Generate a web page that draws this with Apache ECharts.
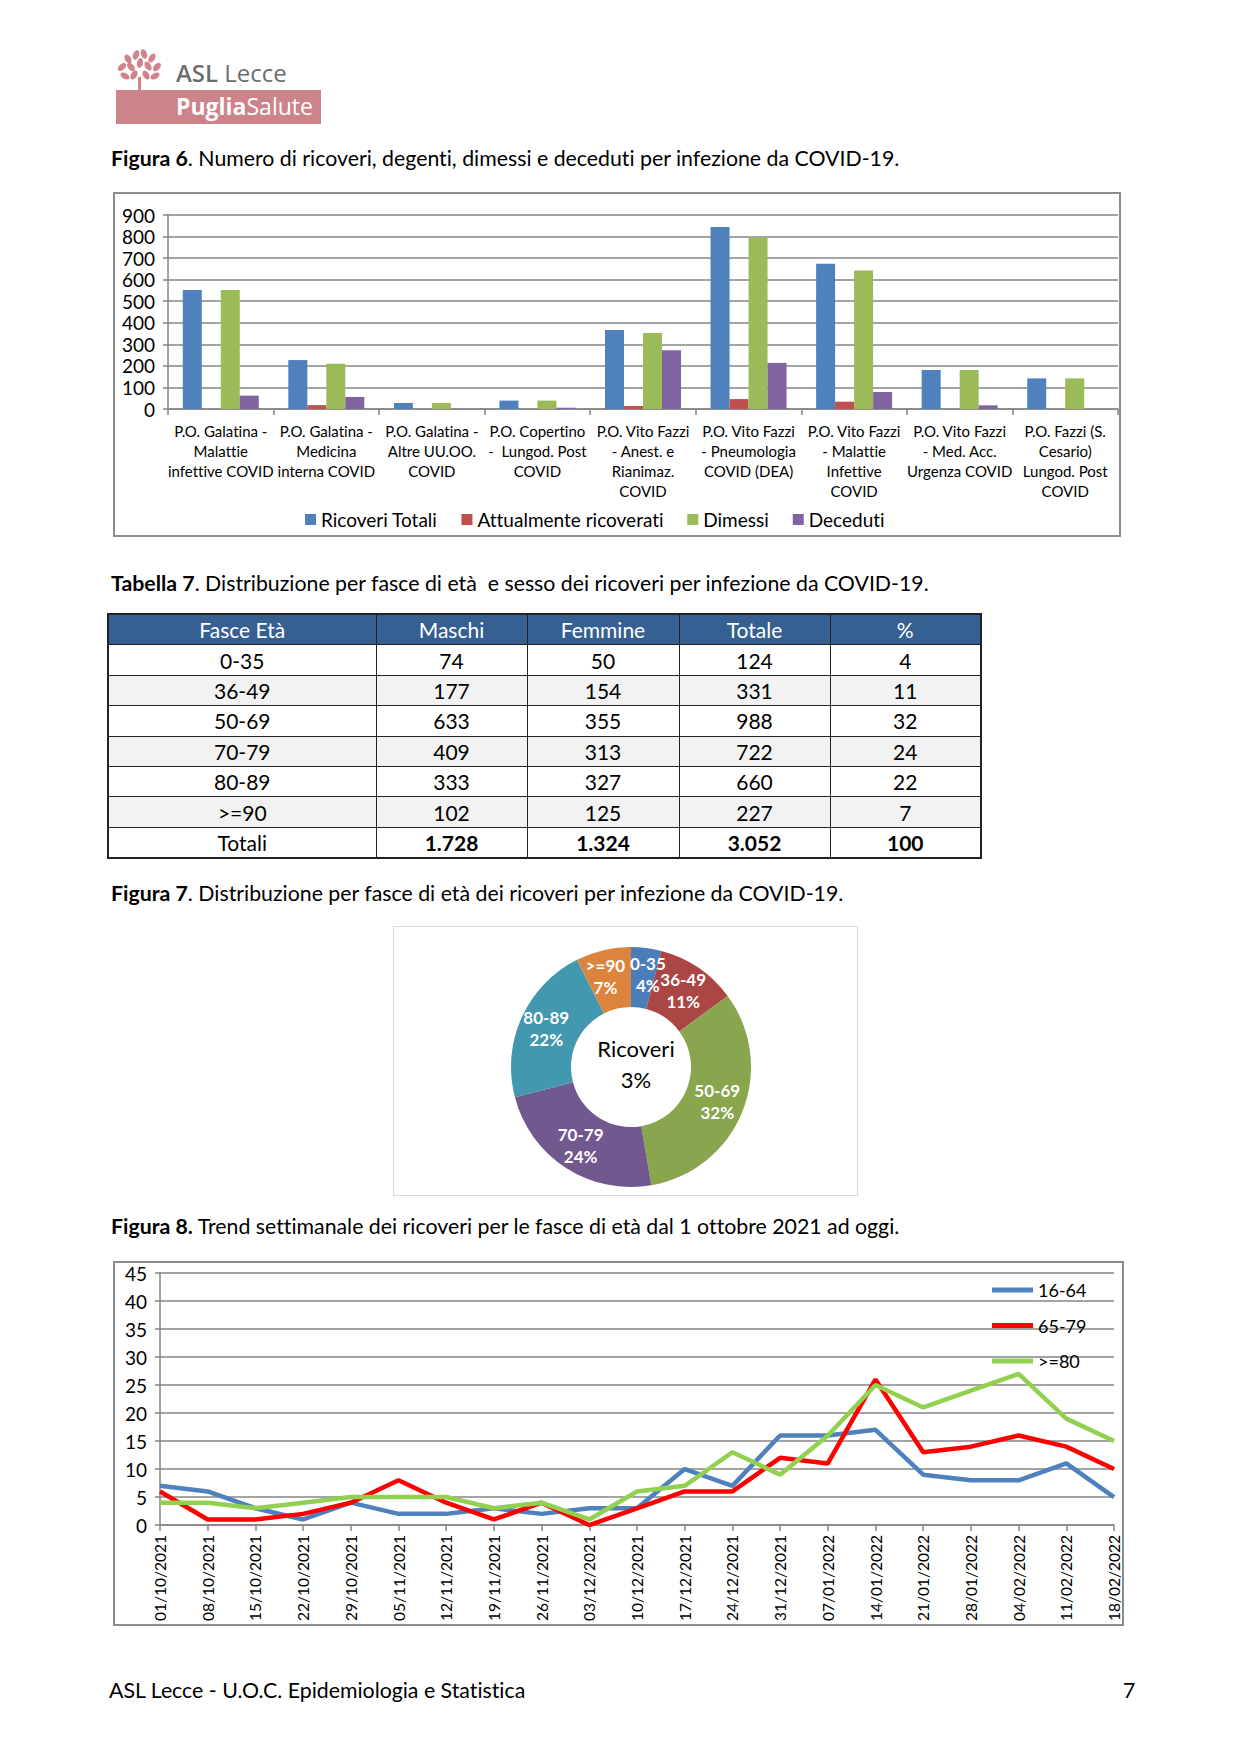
<!DOCTYPE html>
<html><head><meta charset="utf-8">
<script src="https://cdn.jsdelivr.net/npm/echarts@6/dist/echarts.min.js"></script>
<style>
html,body{margin:0;padding:0;background:#fff;}
body{width:1240px;height:1754px;position:relative;overflow:hidden;font-family:Lato,"Open Sans","Noto Sans",sans-serif;color:#000;font-variant-ligatures:none;font-feature-settings:"liga" 0,"clig" 0;}
svg text{font-variant-ligatures:none;font-feature-settings:"liga" 0,"clig" 0;}
.abs{position:absolute;}
.cap{font-size:21.3px;line-height:26px;white-space:nowrap;}
.cap b{font-weight:bold;}
#tbl{border-collapse:collapse;table-layout:fixed;font-size:21px;}
#tbl td,#tbl th{border:1px solid #222;text-align:center;height:29.4px;padding:0;}
#tbl th{background:#366092;color:#fff;font-weight:normal;}
#tbl tr.g td{background:#F2F2F2;}
</style></head>
<body>
<!-- logo -->
<svg class="abs" style="left:114px;top:47px" width="54" height="48" viewBox="0 0 54 48">
 <g fill="#D0848C">
  <ellipse cx="14" cy="12" rx="3" ry="5" transform="rotate(-30 14 12)"/>
  <ellipse cx="22" cy="8" rx="3" ry="5" transform="rotate(20 22 8)"/>
  <ellipse cx="30" cy="7" rx="3" ry="5" transform="rotate(-20 30 7)"/>
  <ellipse cx="38" cy="11" rx="3" ry="5" transform="rotate(30 38 11)"/>
  <ellipse cx="8" cy="20" rx="3" ry="5" transform="rotate(50 8 20)"/>
  <ellipse cx="17" cy="20" rx="3" ry="5" transform="rotate(-40 17 20)"/>
  <ellipse cx="26" cy="16" rx="3" ry="5" transform="rotate(10 26 16)"/>
  <ellipse cx="34" cy="19" rx="3" ry="5" transform="rotate(-30 34 19)"/>
  <ellipse cx="43" cy="20" rx="3" ry="5" transform="rotate(40 43 20)"/>
  <ellipse cx="11" cy="29" rx="3" ry="5" transform="rotate(-60 11 29)"/>
  <ellipse cx="20" cy="28" rx="3" ry="5" transform="rotate(30 20 28)"/>
  <ellipse cx="32" cy="28" rx="3" ry="5" transform="rotate(-30 32 28)"/>
  <ellipse cx="41" cy="29" rx="3" ry="5" transform="rotate(60 41 29)"/>
  <rect x="24" y="30" width="3" height="14"/>
 </g>
</svg>
<div class="abs" style="left:176px;top:56px;font-size:24px;color:#6d6d6d;font-family:'Open Sans',sans-serif;"><b style="font-weight:600">ASL</b> Lecce</div>
<div class="abs" style="left:116px;top:90px;width:205px;height:34px;background:#CC8389;"></div>
<div class="abs" style="left:176px;top:90px;font-size:23px;color:#fff;font-family:'Open Sans',sans-serif;"><b style="font-weight:700">Puglia</b>Salute</div>

<div class="abs cap" style="left:111px;top:145px"><b>Figura 6</b>. Numero di ricoveri, degenti, dimessi e deceduti per infezione da COVID-19.</div>
<div class="abs" style="left:113px;top:192px;width:1008px;height:345px;box-sizing:border-box;border:2px solid #8c8c8c;">
 <div id="c1" style="width:1004px;height:341px"></div>
</div>

<div class="abs cap" style="left:111px;top:570px"><b>Tabella 7</b>. Distribuzione per fasce di età &nbsp;e sesso dei ricoveri per infezione da COVID-19.</div>
<div class="abs" style="left:107px;top:613px;"><table id="tbl"></table></div>

<div class="abs cap" style="left:111px;top:880px"><b>Figura 7</b>. Distribuzione per fasce di età dei ricoveri per infezione da COVID-19.</div>
<div class="abs" style="left:393px;top:926px;width:465px;height:270px;box-sizing:border-box;border:1px solid #d9d9d9;">
 <div id="c2" style="width:463px;height:268px"></div>
</div>

<div class="abs cap" style="left:111px;top:1213px"><b>Figura 8.</b> Trend settimanale dei ricoveri per le fasce di età dal 1 ottobre 2021 ad oggi.</div>
<div class="abs" style="left:113px;top:1261px;width:1011px;height:365px;box-sizing:border-box;border:2px solid #8c8c8c;">
 <div id="c3" style="width:1007px;height:361px"></div>
</div>

<div class="abs cap" style="left:109px;top:1677px">ASL Lecce - U.O.C. Epidemiologia e Statistica</div>
<div class="abs cap" style="left:1123px;top:1677px">7</div>

<script>
// ---------- Figura 6 data ----------
var reparti = [
 "P.O. Galatina -\nMalattie\ninfettive COVID",
 "P.O. Galatina -\nMedicina\ninterna COVID",
 "P.O. Galatina -\nAltre UU.OO.\nCOVID",
 "P.O. Copertino\n-  Lungod. Post\nCOVID",
 "P.O. Vito Fazzi\n- Anest. e\nRianimaz.\nCOVID",
 "P.O. Vito Fazzi\n- Pneumologia\nCOVID (DEA)",
 "P.O. Vito Fazzi\n- Malattie\nInfettive\nCOVID",
 "P.O. Vito Fazzi\n- Med. Acc.\nUrgenza COVID",
 "P.O. Fazzi (S.\nCesario)\nLungod. Post\nCOVID"
];
var ricoveriTotali = [552, 227, 28, 39, 367, 844, 674, 181, 142];
var attualmenteRicoverati = [0, 18, 0, 0, 14, 46, 34, 0, 0];
var dimessi = [552, 210, 28, 39, 353, 796, 642, 181, 142];
var deceduti = [62, 56, 0, 6, 272, 214, 79, 17, 0];

// ---------- Tabella 7 data ----------
var tabHeader = ["Fasce Età", "Maschi", "Femmine", "Totale", "%"];
var fasceEta = ["0-35", "36-49", "50-69", "70-79", "80-89", ">=90"];
var maschi = [74, 177, 633, 409, 333, 102];
var femmine = [50, 154, 355, 313, 327, 125];
var totale = [124, 331, 988, 722, 660, 227];
var percentuale = [4, 11, 32, 24, 22, 7];
var totaliRow = ["Totali", "1.728", "1.324", "3.052", "100"];

// ---------- Figura 7 data ----------
var torta = fasceEta;
var tortaValori = totale;
var tortaColori = ["#4A7EBB", "#AA4643", "#89A54E", "#71588F", "#4198AF", "#DB843D"];

// ---------- Figura 8 data ----------
var settimane = ["01/10/2021","08/10/2021","15/10/2021","22/10/2021","29/10/2021","05/11/2021","12/11/2021","19/11/2021","26/11/2021","03/12/2021","10/12/2021","17/12/2021","24/12/2021","31/12/2021","07/01/2022","14/01/2022","21/01/2022","28/01/2022","04/02/2022","11/02/2022","18/02/2022"];
var eta16_64 = [7, 6, 3, 1, 4, 2, 2, 3, 2, 3, 3, 10, 7, 16, 16, 17, 9, 8, 8, 11, 5];
var eta65_79 = [6, 1, 1, 2, 4, 8, 4, 1, 4, 0, 3, 6, 6, 12, 11, 26, 13, 14, 16, 14, 10];
var eta80 = [4, 4, 3, 4, 5, 5, 5, 3, 4, 1, 6, 7, 13, 9, 16, 25, 21, 24, 27, 19, 15];

var FONT = 'Lato,"Open Sans","Noto Sans",sans-serif';

// ---------- table ----------
(function(){
 var widths = [268, 151, 152, 151, 151];
 var h = '<colgroup>' + widths.map(function(w){return '<col style="width:'+w+'px">';}).join('') + '</colgroup>';
 h += '<tr>' + tabHeader.map(function(t){return '<th>'+t.replace('>','&gt;')+'</th>';}).join('') + '</tr>';
 for (var i=0;i<fasceEta.length;i++){
  h += '<tr class="'+(i%2===1?'g':'')+'"><td>'+fasceEta[i].replace('>','&gt;')+'</td><td>'+maschi[i]+'</td><td>'+femmine[i]+'</td><td>'+totale[i]+'</td><td>'+percentuale[i]+'</td></tr>';
 }
 h += '<tr>' + totaliRow.map(function(t,j){return '<td>'+(j>0?'<b>'+t+'</b>':t)+'</td>';}).join('') + '</tr>';
 var t = document.getElementById('tbl');
 t.innerHTML = h;
 t.style.width = '873px';
 t.style.border = '2px solid #222';
})();

var R = {renderer:'svg'};

// ---------- chart 1 ----------
var c1 = echarts.init(document.getElementById('c1'), null, R);
c1.setOption({
 animation:false,
 textStyle:{fontFamily:FONT},
 grid:{left:53,top:21,right:1,bottom:126},
 legend:{top:311,left:185,itemWidth:11,itemHeight:11,itemGap:24,icon:'rect',
  textStyle:{fontSize:19,color:'#000',fontFamily:FONT},
  data:['Ricoveri Totali','Attualmente ricoverati','Dimessi','Deceduti']},
 xAxis:{type:'category',data:reparti,
  axisLine:{lineStyle:{color:'#868686',width:1.5}},
  axisTick:{show:true,length:6,lineStyle:{color:'#868686',width:1.5}},
  axisLabel:{interval:0,fontSize:15,lineHeight:20,color:'#000',margin:12,fontFamily:FONT}},
 yAxis:{type:'value',min:0,max:900,interval:100,
  axisLine:{show:true,lineStyle:{color:'#868686',width:1.5}},
  axisTick:{show:true,length:5,lineStyle:{color:'#868686',width:1.5}},
  splitLine:{lineStyle:{color:'#868686',width:1.5}},
  axisLabel:{fontSize:19,color:'#000',margin:13,fontFamily:FONT}},
 series:[
  {name:'Ricoveri Totali',type:'bar',data:ricoveriTotali,itemStyle:{color:'#4F81BD'},barGap:'0%',barCategoryGap:'28%'},
  {name:'Attualmente ricoverati',type:'bar',data:attualmenteRicoverati,itemStyle:{color:'#C0504D'}},
  {name:'Dimessi',type:'bar',data:dimessi,itemStyle:{color:'#9BBB59'}},
  {name:'Deceduti',type:'bar',data:deceduti,itemStyle:{color:'#8064A2'}}
 ]
});

// ---------- chart 2 ----------
var c2 = echarts.init(document.getElementById('c2'), null, R);
c2.setOption({
 animation:false,
 textStyle:{fontFamily:FONT},
 title:{text:'Ricoveri\n3%',left:237,top:132,textAlign:'center',textVerticalAlign:'middle',
  textStyle:{fontSize:22,fontWeight:'normal',lineHeight:31,color:'#000',fontFamily:FONT}},
 series:[{type:'pie',radius:[60,120],center:[237,140],startAngle:90,clockwise:true,
  avoidLabelOverlap:false,
  itemStyle:{borderColor:'#fff',borderWidth:0},
  label:{show:true,position:'inside',formatter:function(p){return p.name+'\n'+Math.round(p.percent)+'%';},color:'#fff',fontWeight:'bold',fontSize:17,lineHeight:22,fontFamily:FONT},
  labelLayout:function(p){
   if(p.dataIndex===0){return {dx:5,hideOverlap:false};}
   if(p.dataIndex===5){return {dx:-4,hideOverlap:false};}
   return {hideOverlap:false};
  },
  labelLine:{show:false},
  data:torta.map(function(n,i){return {name:n,value:tortaValori[i],itemStyle:{color:tortaColori[i]}};})
 }]
});

// ---------- chart 3 ----------
var c3 = echarts.init(document.getElementById('c3'), null, R);
c3.setOption({
 animation:false,
 textStyle:{fontFamily:FONT},
 grid:{left:45,top:10,right:5,bottom:96},
 legend:{orient:'vertical',left:872,top:13,itemWidth:41,itemHeight:5,itemGap:17.5,icon:'rect',
  textStyle:{fontSize:18,color:'#000',fontFamily:FONT},
  data:['16-64','65-79','>=80']},
 xAxis:{type:'category',data:settimane,boundaryGap:false,
  axisLine:{lineStyle:{color:'#868686',width:1.5}},
  axisTick:{show:true,length:6,interval:0,lineStyle:{color:'#868686',width:1.5}},
  axisLabel:{interval:0,rotate:90,fontSize:15.5,color:'#000',margin:10,fontFamily:FONT}},
 yAxis:{type:'value',min:0,max:45,interval:5,
  axisLine:{show:true,lineStyle:{color:'#868686',width:1.5}},
  axisTick:{show:true,length:5,lineStyle:{color:'#868686',width:1.5}},
  splitLine:{lineStyle:{color:'#868686',width:1.5}},
  axisLabel:{fontSize:19,color:'#000',margin:13,fontFamily:FONT}},
 series:[
  {name:'16-64',type:'line',data:eta16_64,symbol:'none',lineStyle:{color:'#4F81BD',width:4.5},itemStyle:{color:'#4F81BD'}},
  {name:'65-79',type:'line',data:eta65_79,symbol:'none',lineStyle:{color:'#FF0000',width:4.5},itemStyle:{color:'#FF0000'}},
  {name:'>=80',type:'line',data:eta80,symbol:'none',lineStyle:{color:'#92D050',width:4.5},itemStyle:{color:'#92D050'}}
 ]
});
</script>
</body></html>
